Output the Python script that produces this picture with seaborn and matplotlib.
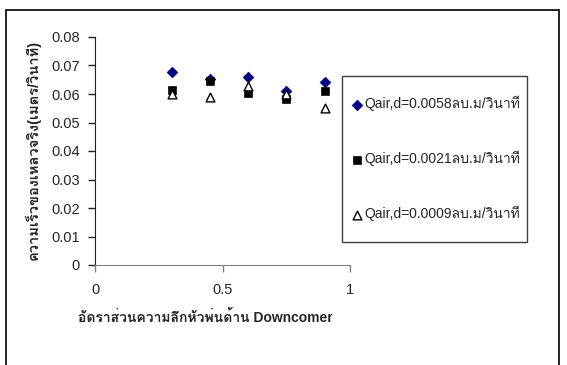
import matplotlib
matplotlib.use("Agg")
import matplotlib.pyplot as plt
from matplotlib.patches import Rectangle
import pandas as pd
import seaborn as sns

# depth ratio on the downcomer side
x_ratio = [0.3, 0.45, 0.6, 0.75, 0.9]

# actual liquid velocity (m/s) for each air flow rate
v_0058 = [0.0677, 0.0652, 0.0660, 0.0612, 0.0642]
v_0021 = [0.0613, 0.0646, 0.0603, 0.0582, 0.0612]
v_0009 = [0.0599, 0.0591, 0.0627, 0.0599, 0.0550]

labels = ["Qair,d=0.0058ลบ.ม/วินาที",
          "Qair,d=0.0021ลบ.ม/วินาที",
          "Qair,d=0.0009ลบ.ม/วินาที"]

sns.set_style("white")
plt.rcParams['font.family'] = ['Liberation Sans', 'Loma']

fig = plt.figure(figsize=(5.67, 3.65), dpi=100)
ax = fig.add_axes([95 / 567, 1 - 265 / 365, 255 / 567, 228 / 365])

df = pd.DataFrame({"x": x_ratio * 3,
                   "v": v_0058 + v_0021 + v_0009,
                   "series": [labels[0]] * 5 + [labels[1]] * 5 + [labels[2]] * 5})

styles = [dict(marker="D", color="#000080", edgecolor="#000080", s=30),
          dict(marker="s", color="black", edgecolor="black", s=34),
          dict(marker="^", color="white", edgecolor="black", s=40, linewidth=1.0)]
for lab, st in zip(labels, styles):
    sns.scatterplot(data=df[df["series"] == lab], x="x", y="v", ax=ax,
                    label=lab, zorder=3, **st)

ax.set_xlim(0, 1)
ax.set_ylim(0, 0.08)
ax.set_xticks([0, 0.5, 1])
ax.set_xticklabels(["0", "0.5", "1"])
ax.set_yticks([0, 0.01, 0.02, 0.03, 0.04, 0.05, 0.06, 0.07, 0.08])
ax.set_yticklabels(["0", "0.01", "0.02", "0.03", "0.04", "0.05", "0.06", "0.07", "0.08"])

for side in ["top", "right"]:
    ax.spines[side].set_visible(False)
ax.spines["left"].set_color("#202020")
ax.spines["bottom"].set_color("#808080")
ax.tick_params(axis="both", direction="out", length=5, width=1, labelsize=10.5,
               left=True, bottom=True, pad=6)
ax.tick_params(axis="y", color="#202020")
ax.tick_params(axis="x", color="#808080", pad=8)

ax.set_xlabel("อัดราส่วนความลึกหัวพ่นด้าน Downcomer", fontsize=10, fontweight="bold")
ax.xaxis.set_label_coords(205 / 567, 1 - 310 / 365, transform=fig.transFigure)
ax.set_ylabel("ความเร็วของเหลวจริง(เมตร/วินาที)", fontsize=10.5, fontweight="bold")
ax.yaxis.set_label_coords(41 / 567, 1 - 150 / 365, transform=fig.transFigure)

ax.legend(loc="upper left", bbox_to_anchor=(351 / 567, 1 - 96 / 365),
          bbox_transform=fig.transFigure, fontsize=10, frameon=False,
          labelspacing=2.85, handletextpad=0.15, handlelength=0.8,
          borderpad=0, borderaxespad=0)

# legend frame drawn by hand
fig.patches.append(Rectangle((342 / 567, 1 - 242 / 365), 185 / 567, 166 / 365,
                             transform=fig.transFigure, fill=False,
                             edgecolor="#404040", linewidth=1.0))

# outer chart border
fig.patches.append(Rectangle((6 / 567, -0.1), 553 / 567, 1.1 - 10 / 365,
                             transform=fig.transFigure, fill=False,
                             edgecolor="black", linewidth=1.2))

fig.savefig("out.png", dpi=100)
